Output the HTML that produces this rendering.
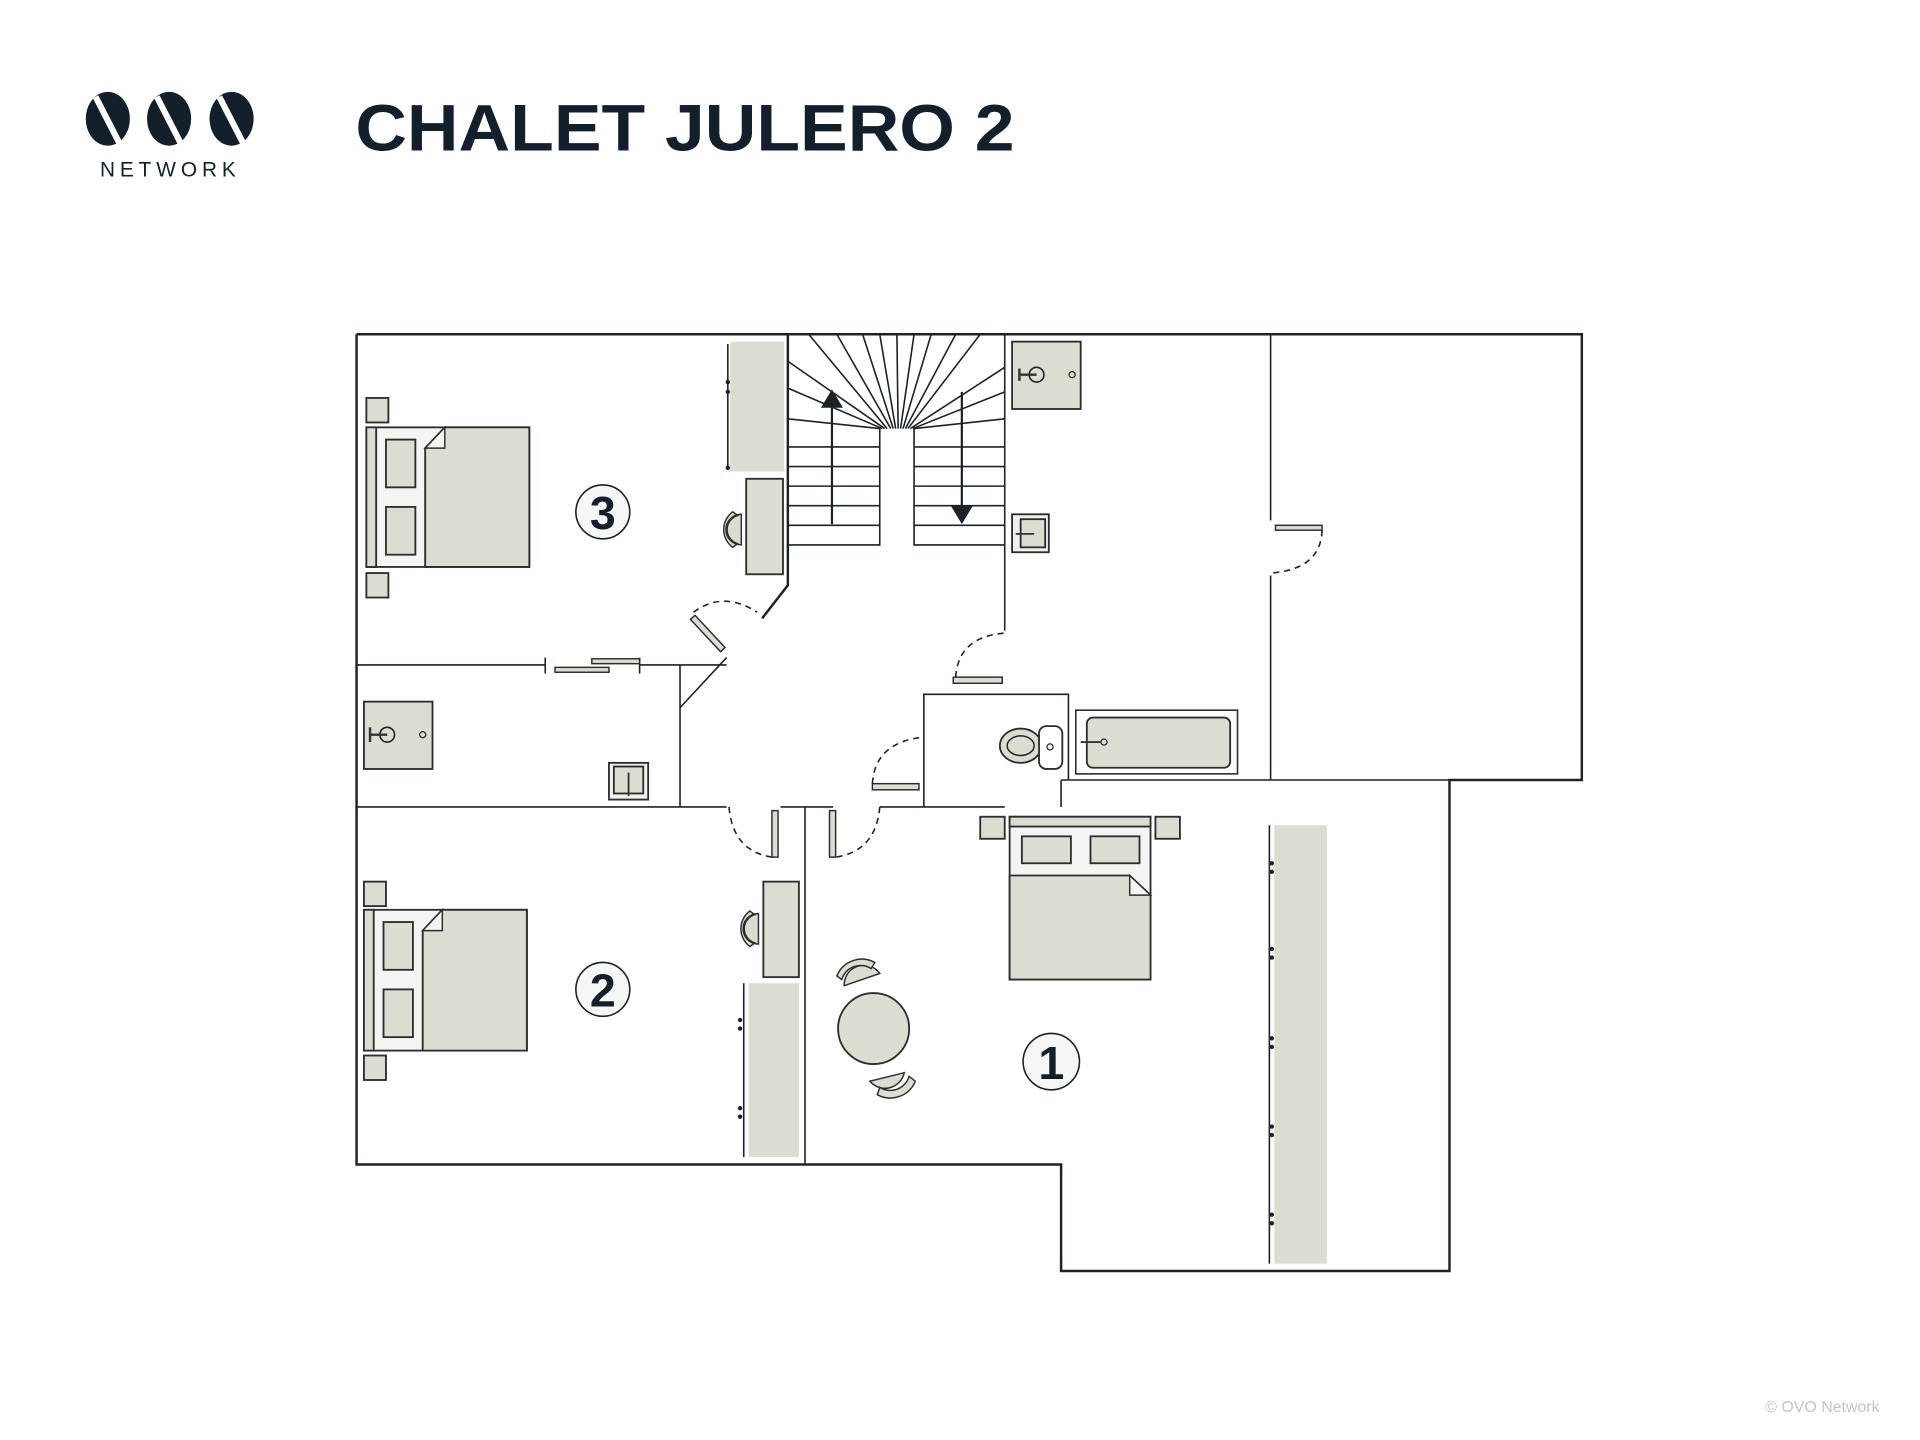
<!DOCTYPE html>
<html><head><meta charset="utf-8"><style>
html,body{margin:0;padding:0;background:#fff;width:1920px;height:1440px;overflow:hidden}
svg{display:block}
</style></head><body>
<svg width="1920" height="1440" viewBox="0 0 1567 1176" preserveAspectRatio="none" xmlns="http://www.w3.org/2000/svg" font-family="Liberation Sans, sans-serif">
<defs>
<style>
.w{fill:none;stroke:#1c2228;stroke-width:2}
.t{fill:none;stroke:#1c2228;stroke-width:1.3}
.f{fill:#dcdcd0;stroke:#2a2e30;stroke-width:1.5}
.nf{fill:#dcdcd0}
.d{fill:none;stroke:#1c2228;stroke-width:1.3;stroke-dasharray:5 4}
.p{fill:#dcdcd0;stroke:#2a2e30;stroke-width:1.2}
</style>
</defs>
<!-- logo -->
<g fill="#13202b">
<ellipse cx="88" cy="97" rx="18" ry="22"/>
<ellipse cx="138" cy="97" rx="18" ry="22"/>
<ellipse cx="189" cy="97" rx="18" ry="22"/>
</g>
<g stroke="#fff" stroke-width="5">
<line x1="78" y1="79" x2="98" y2="118"/>
<line x1="128" y1="79" x2="148" y2="118"/>
<line x1="179" y1="79" x2="199" y2="118"/>
</g>
<text x="139" y="144" font-size="17" fill="#13202b" text-anchor="middle" letter-spacing="4">NETWORK</text>
<text x="290" y="123" font-size="54" font-weight="bold" fill="#13202b" textLength="538" lengthAdjust="spacingAndGlyphs">CHALET JULERO 2</text>

<!-- outer walls -->
<polyline class="w" points="291,273 1291,273 1291,637 1183,637 1183,1038 866,1038 866,951 291,951 291,273"/>

<!-- stair walls -->
<polyline class="w" points="643,273 643,478 622,505"/>
<polyline class="t" points="820,273 820,515"/>
<!-- room3 bottom wall -->
<line class="t" x1="291" y1="543" x2="445" y2="543"/>
<line class="t" x1="445" y1="537" x2="445" y2="550"/>
<line class="t" x1="522" y1="537" x2="522" y2="550"/>
<rect class="p" x="453" y="545" width="44" height="4"/>
<rect class="p" x="483" y="538" width="39" height="4"/>
<line class="t" x1="522" y1="543" x2="593" y2="543"/>
<line class="t" x1="555" y1="578" x2="593" y2="537"/>
<line class="t" x1="555" y1="543" x2="555" y2="659"/>
<rect class="p" x="560" y="515" width="36" height="5" transform="rotate(47 578 517)"/>
<path class="d" d="M566,500 Q590,482 618,500"/>
<!-- y=659 wall -->
<line class="t" x1="291" y1="659" x2="593" y2="659"/>
<line class="t" x1="637" y1="659" x2="680" y2="659"/>
<line class="t" x1="657" y1="659" x2="657" y2="951"/>
<rect class="p" x="630" y="662" width="5" height="38"/>
<rect class="p" x="677" y="662" width="5" height="38"/>
<path class="d" d="M595,659 Q598,695 630,700"/>
<path class="d" d="M718,659 Q715,695 682,700"/>
<line class="t" x1="718" y1="659" x2="754" y2="659"/>
<!-- WC -->
<polyline class="t" points="754,659 754,567 872,567 872,637"/>
<rect class="p" x="778" y="553" width="40" height="5"/>
<path class="d" d="M780,553 Q782,520 820,517"/>
<rect class="p" x="712" y="640" width="38" height="5"/>
<path class="d" d="M712,640 Q714,606 754,602"/>
<line class="t" x1="866" y1="637" x2="1183" y2="637"/>
<line class="t" x1="866" y1="637" x2="866" y2="659"/>
<line class="t" x1="754" y1="659" x2="820" y2="659"/>
<!-- right rooms wall -->
<line class="t" x1="1037" y1="273" x2="1037" y2="425"/>
<line class="t" x1="1037" y1="470" x2="1037" y2="637"/>
<rect class="p" x="1041" y="429" width="38" height="4"/>
<path class="d" d="M1079,433 Q1078,465 1037,468"/>

<!-- Stairs -->
<g class="t">
<polyline points="643,445 718,445 718,350"/>
<polyline points="820,445 746,445 746,350"/>
<line x1="643" y1="365" x2="718" y2="365"/><line x1="643" y1="381" x2="718" y2="381"/><line x1="643" y1="397" x2="718" y2="397"/><line x1="643" y1="413" x2="718" y2="413"/><line x1="643" y1="429" x2="718" y2="429"/>
<line x1="746" y1="365" x2="820" y2="365"/><line x1="746" y1="381" x2="820" y2="381"/><line x1="746" y1="397" x2="820" y2="397"/><line x1="746" y1="413" x2="820" y2="413"/><line x1="746" y1="429" x2="820" y2="429"/>
<line x1="718" y1="350" x2="643" y2="342"/><line x1="720" y1="350" x2="643" y2="317"/><line x1="722" y1="350" x2="643" y2="295"/><line x1="724" y1="350" x2="660" y2="273"/><line x1="727" y1="350" x2="683" y2="273"/><line x1="729" y1="350" x2="704" y2="273"/><line x1="731" y1="350" x2="718" y2="273"/><line x1="733" y1="350" x2="732" y2="273"/>
<line x1="735" y1="350" x2="746" y2="273"/><line x1="737" y1="350" x2="760" y2="273"/><line x1="739" y1="350" x2="780" y2="273"/><line x1="741" y1="350" x2="800" y2="273"/><line x1="743" y1="350" x2="820" y2="300"/><line x1="745" y1="350" x2="820" y2="320"/><line x1="746" y1="350" x2="820" y2="342"/>
</g>
<line stroke="#1c2228" stroke-width="1.8" x1="679" y1="428" x2="679" y2="330"/>
<polygon fill="#1c2228" points="679,318 670,333 688,333"/>
<line stroke="#1c2228" stroke-width="1.8" x1="785" y1="320" x2="785" y2="415"/>
<polygon fill="#1c2228" points="785,428 776,413 794,413"/>

<!-- Room 3 -->
<rect class="f" x="299" y="325" width="18" height="20"/>
<rect class="f" x="299" y="468" width="18" height="20"/>
<rect fill="#f4f4f2" stroke="#2a2e30" stroke-width="1.5" x="299" y="349" width="133" height="114"/>
<rect class="f" x="299" y="349" width="8" height="114"/>
<polygon class="f" points="347,366 363,349 432,349 432,463 347,463"/>
<polygon fill="#f4f4f2" stroke="#2a2e30" stroke-width="1.2" points="347,366 363,349 363,366"/>
<rect class="f" x="315" y="359" width="24" height="39"/>
<rect class="f" x="315" y="414" width="24" height="39"/>
<rect class="nf" x="596" y="279" width="44" height="106"/>
<line class="t" x1="594" y1="281" x2="594" y2="384"/>
<rect class="f" x="609" y="391" width="30" height="78"/>
<path class="p" d="M605,420 A12,12 0 0 0 605,445 Z M598,418 A18,18 0 0 0 598,447 L602,444 A12,12 0 0 1 602,421 Z"/>
<circle cx="492" cy="418" r="22" fill="#f6f6f4" stroke="#1c2228" stroke-width="1.3"/>
<text x="492" y="432" font-size="38" font-weight="bold" text-anchor="middle" fill="#13202b">3</text>
<!-- basin top -->
<rect class="f" x="826" y="279" width="56" height="55"/>
<circle cx="846" cy="306" r="6" fill="none" stroke="#1c2228" stroke-width="1.3"/>
<line x1="832" y1="306" x2="846" y2="306" stroke="#333" stroke-width="2"/>
<line x1="832" y1="301" x2="832" y2="311" stroke="#333" stroke-width="2"/>
<circle cx="875" cy="306" r="2.5" fill="none" stroke="#1c2228"/>
<rect class="f" x="826" y="420" width="30" height="31" style="fill:#f0f0ec"/>
<rect class="f" x="833" y="424" width="20" height="23"/>
<line x1="829" y1="436" x2="844" y2="436" stroke="#333" stroke-width="1.5"/>
<!-- left bathroom -->
<rect class="f" x="297" y="573" width="56" height="55"/>
<circle cx="316" cy="600" r="6" fill="none" stroke="#1c2228" stroke-width="1.3"/>
<line x1="302" y1="600" x2="316" y2="600" stroke="#333" stroke-width="2"/>
<line x1="302" y1="594" x2="302" y2="606" stroke="#333" stroke-width="2"/>
<circle cx="345" cy="600" r="2.5" fill="none" stroke="#1c2228"/>
<rect class="f" x="497" y="623" width="32" height="30" style="fill:#f0f0ec"/>
<rect class="f" x="501" y="626" width="24" height="22"/>
<line x1="513" y1="631" x2="513" y2="650" stroke="#333" stroke-width="1.5"/>
<!-- WC and bath -->
<ellipse cx="833" cy="609" rx="17" ry="14" class="f"/>
<ellipse cx="833" cy="609" rx="11" ry="8" fill="none" stroke="#1c2228" stroke-width="1.2"/>
<rect class="f" x="848" y="593" width="19" height="35" rx="6" style="fill:#fff"/>
<circle cx="857" cy="610" r="2.5" fill="none" stroke="#1c2228"/>
<rect x="878" y="580" width="132" height="52" fill="#fff" stroke="#2a2e30" stroke-width="1.3"/>
<rect class="f" x="887" y="586" width="117" height="41" rx="5"/>
<line x1="882" y1="606" x2="898" y2="606" stroke="#333" stroke-width="1.5"/>
<circle cx="901" cy="606" r="2.5" fill="none" stroke="#1c2228"/>

<!-- Room 2 -->
<rect class="f" x="297" y="720" width="18" height="20"/>
<rect class="f" x="297" y="862" width="18" height="20"/>
<rect fill="#f4f4f2" stroke="#2a2e30" stroke-width="1.5" x="297" y="743" width="133" height="115"/>
<rect class="f" x="297" y="743" width="8" height="115"/>
<polygon class="f" points="345,760 361,743 430,743 430,858 345,858"/>
<polygon fill="#f4f4f2" stroke="#2a2e30" stroke-width="1.2" points="345,760 361,743 361,760"/>
<rect class="f" x="313" y="753" width="24" height="39"/>
<rect class="f" x="313" y="808" width="24" height="39"/>
<rect class="f" x="623" y="720" width="29" height="78"/>
<path class="p" d="M619,746 A12,12 0 0 0 619,771 Z M612,744 A18,18 0 0 0 612,773 L616,770 A12,12 0 0 1 616,747 Z"/>
<rect class="nf" x="611" y="803" width="41" height="142"/>
<line class="t" x1="607" y1="803" x2="607" y2="945"/>
<circle cx="492" cy="808" r="22" fill="#f6f6f4" stroke="#1c2228" stroke-width="1.3"/>
<text x="492" y="822" font-size="38" font-weight="bold" text-anchor="middle" fill="#13202b">2</text>

<!-- Room 1 -->
<rect class="f" x="800" y="667" width="20" height="18"/>
<rect class="f" x="943" y="667" width="20" height="18"/>
<rect fill="#f4f4f2" stroke="#2a2e30" stroke-width="1.5" x="824" y="667" width="115" height="133"/>
<rect class="f" x="824" y="667" width="115" height="8"/>
<polygon class="f" points="824,715 922,715 939,731 939,800 824,800"/>
<polygon fill="#f4f4f2" stroke="#2a2e30" stroke-width="1.2" points="922,715 939,731 922,731"/>
<rect class="f" x="834" y="683" width="40" height="22"/>
<rect class="f" x="890" y="683" width="40" height="22"/>
<circle class="f" cx="713" cy="840" r="29"/>
<path class="p" d="M689,805 L718,795 A16,16 0 0 0 689,805 Z"/>
<path class="p" d="M683,797 A22,22 0 0 1 714,786 L711,791 A16,16 0 0 0 687,800 Z"/>
<path class="p" d="M738,876 L710,883 A16,16 0 0 0 738,876 Z"/>
<path class="p" d="M747,883 A22,22 0 0 1 716,894 L718,888 A16,16 0 0 0 742,879 Z"/>
<rect class="nf" x="1040" y="674" width="43" height="358"/>
<line class="t" x1="1036" y1="674" x2="1036" y2="1032"/>
<g fill="#1c2228">
<circle cx="1038" cy="705" r="1.8"/><circle cx="1038" cy="712" r="1.8"/>
<circle cx="1038" cy="775" r="1.8"/><circle cx="1038" cy="782" r="1.8"/>
<circle cx="1038" cy="848" r="1.8"/><circle cx="1038" cy="855" r="1.8"/>
<circle cx="1038" cy="920" r="1.8"/><circle cx="1038" cy="927" r="1.8"/>
<circle cx="1038" cy="992" r="1.8"/><circle cx="1038" cy="999" r="1.8"/>
<circle cx="604" cy="833" r="1.8"/><circle cx="604" cy="840" r="1.8"/>
<circle cx="604" cy="905" r="1.8"/><circle cx="604" cy="912" r="1.8"/>
<circle cx="594" cy="312" r="1.8"/><circle cx="594" cy="320" r="1.8"/><circle cx="594" cy="382" r="1.8"/>
</g>
<circle cx="858" cy="867" r="23" fill="#f6f6f4" stroke="#1c2228" stroke-width="1.3"/>
<text x="858" y="881" font-size="38" font-weight="bold" text-anchor="middle" fill="#13202b">1</text>

<text x="1534" y="1153" font-size="13" fill="#c4c4c4" text-anchor="end">© OVO Network</text>
</svg>
</body></html>
